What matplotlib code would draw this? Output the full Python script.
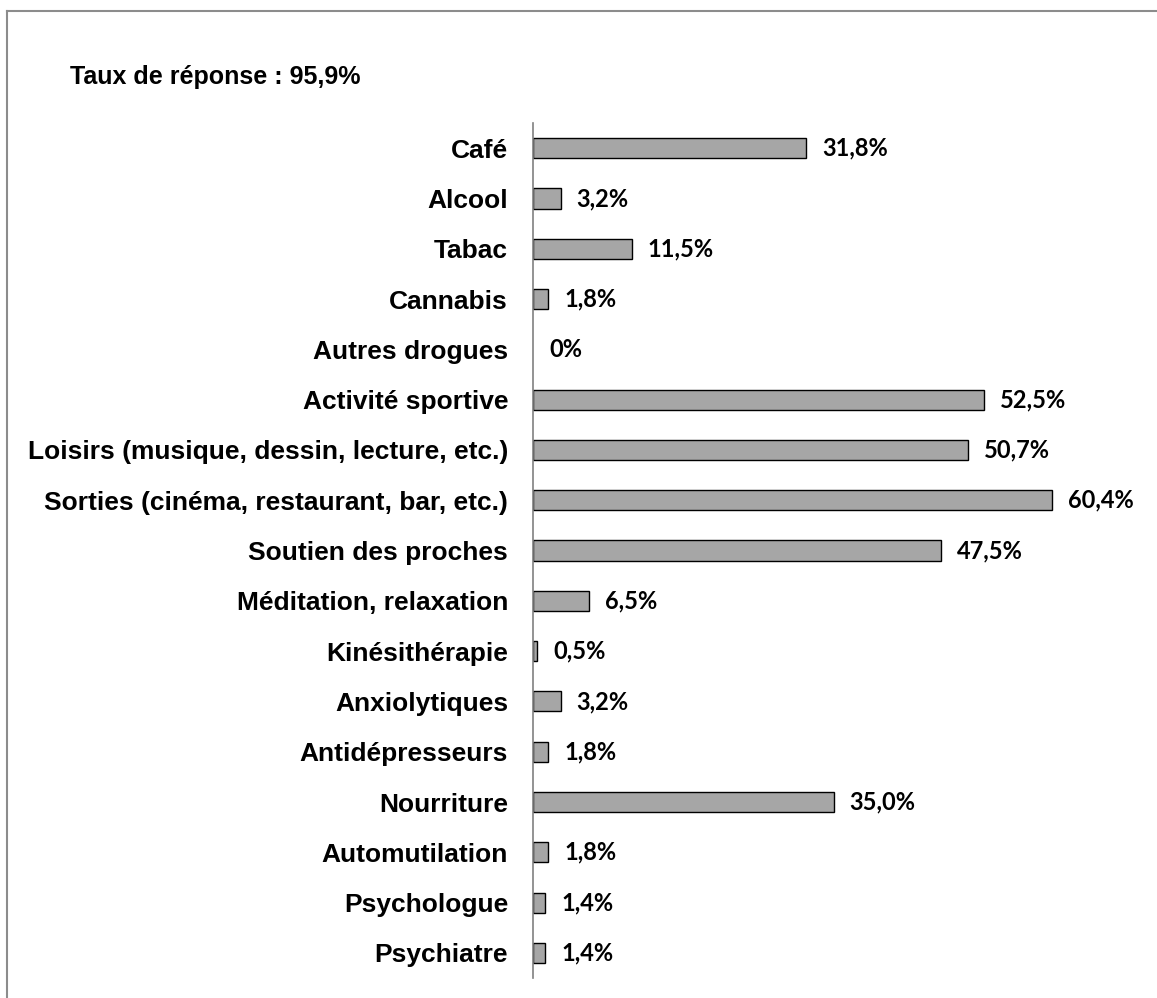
import matplotlib.pyplot as plt
from matplotlib.lines import Line2D

categories = ["Café", "Alcool", "Tabac", "Cannabis", "Autres drogues",
              "Activité sportive", "Loisirs (musique, dessin, lecture, etc.)",
              "Sorties (cinéma, restaurant, bar, etc.)", "Soutien des proches",
              "Méditation, relaxation", "Kinésithérapie", "Anxiolytiques",
              "Antidépresseurs", "Nourriture", "Automutilation", "Psychologue",
              "Psychiatre"]
values = [31.8, 3.2, 11.5, 1.8, 0, 52.5, 50.7, 60.4, 47.5, 6.5, 0.5, 3.2,
          1.8, 35.0, 1.8, 1.4, 1.4]
labels = ["31,8%", "3,2%", "11,5%", "1,8%", "0%", "52,5%", "50,7%", "60,4%",
          "47,5%", "6,5%", "0,5%", "3,2%", "1,8%", "35,0%", "1,8%", "1,4%",
          "1,4%"]

fig = plt.figure(figsize=(11.57, 9.98), dpi=100)
ax = fig.add_axes([0.4607, 0.02, 0.5194, 0.8567])

pos = list(range(len(categories)))
ax.barh(pos, values, height=0.4, color="#a6a6a6", edgecolor="black",
        linewidth=[1 if v > 0 else 0 for v in values])
ax.set_ylim(len(categories) - 0.5, -0.5)
ax.set_xlim(0, 70)

for p, v, lab in zip(pos, values, labels):
    ax.annotate(lab, (v, p), xytext=(16, 0), textcoords="offset pixels",
                ha="left", va="center", fontsize=17, fontweight="bold",
                family="Lato")

ax.set_yticks(pos)
ax.set_yticklabels(categories, fontsize=19, fontweight="bold",
                   family="Liberation Sans")
ax.tick_params(axis="y", length=0, pad=18)
ax.set_xticks([])
for s in ["top", "right", "bottom"]:
    ax.spines[s].set_visible(False)
ax.spines["left"].set_color("#808080")
ax.spines["left"].set_linewidth(1.2)

fig.text(70 / 1157, 1 - 77 / 998, "Taux de réponse : 95,9%", fontsize=18,
         fontweight="bold", family="Liberation Sans", va="center", ha="left")

# cadre gris (haut et gauche)
fig.add_artist(Line2D([0.006, 1], [0.989, 0.989], color="#8c8c8c", lw=1.5))
fig.add_artist(Line2D([0.006, 0.006], [0, 0.989], color="#8c8c8c", lw=1.5))

fig.savefig("out.png", dpi=100)
